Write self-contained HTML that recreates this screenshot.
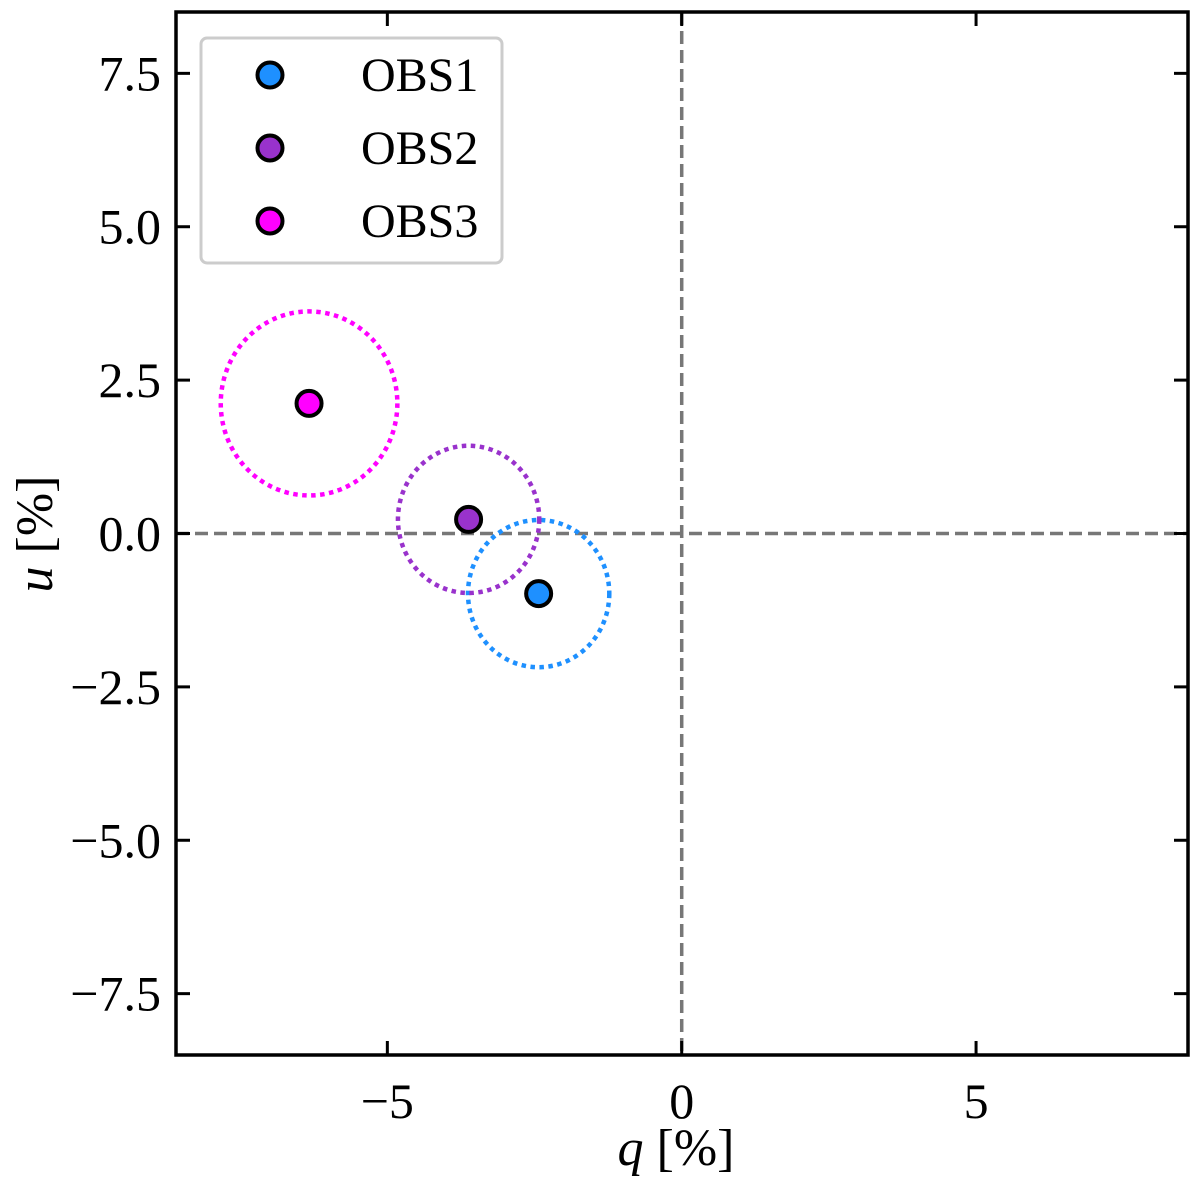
<!DOCTYPE html>
<html><head><meta charset="utf-8"><style>
body{margin:0;background:#fff}
svg{display:block;font-family:"Liberation Serif",serif}
</style></head><body>
<svg id="chart" width="1200" height="1180">
<g id="g"></g>
</svg>
<script>
const names=["OBS1","OBS2","OBS3"];
const qVals=[-2.43,-3.62,-6.33];
const uVals=[-0.98,0.23,2.12];
const errR=[1.2,1.2,1.5];
const colors=["#1e90ff","#9932cc","#ff00ff"];
const xTicks=[-5,0,5];
const xTickLabels=["\u22125","0","5"];
const yTicks=[-7.5,-5,-2.5,0,2.5,5,7.5];
const yTickLabels=["\u22127.5","\u22125.0","\u22122.5","0.0","2.5","5.0","7.5"];
const L=176,R=1188,T=12,B=1055,xmin=-8.59,xmax=8.6,ymin=-8.5,ymax=8.5;
const X=v=>L+(v-xmin)/(xmax-xmin)*(R-L);
const Y=v=>B-(v-ymin)/(ymax-ymin)*(B-T);
const NS="http://www.w3.org/2000/svg",g=document.getElementById('g');
function mk(t,a,txt){const e=document.createElementNS(NS,t);for(const k in a)e.setAttribute(k,a[k]);if(txt!=null)e.textContent=txt;g.appendChild(e);return e;}
let e;
e=mk('line',{x1:X(0),x2:X(0),y1:T,y2:B,stroke:'#777','stroke-width':3.5,'stroke-dasharray':'13,6'});


e=mk('line',{x1:L,x2:R,y1:Y(0),y2:Y(0),stroke:'#777','stroke-width':3.5,'stroke-dasharray':'13,6'});


names.forEach((n,i)=>{
  const rx=errR[i]*(R-L)/(xmax-xmin), ry=errR[i]*(B-T)/(ymax-ymin);
  e=mk('ellipse',{cx:X(qVals[i]),cy:Y(uVals[i]),rx:rx,ry:ry,fill:'none',stroke:colors[i],'stroke-width':4.5,'stroke-dasharray':'4.5,4.5'});
  
  
});
names.forEach((n,i)=>{
  e=mk('circle',{cx:X(qVals[i]),cy:Y(uVals[i]),r:12.5,fill:colors[i],stroke:'#000','stroke-width':4});
  
  
});
e=mk('rect',{x:L,y:T,width:R-L,height:B-T,fill:'none',stroke:'#000','stroke-width':3.5});


xTicks.forEach((v,i)=>{
  e=mk('line',{x1:X(v),x2:X(v),y1:B,y2:B-14,stroke:'#000','stroke-width':3});
  
  
  e=mk('line',{x1:X(v),x2:X(v),y1:T,y2:T+14,stroke:'#000','stroke-width':3});
  
  
  e=mk('text',{x:X(v),y:1118,'font-size':50,'text-anchor':'middle'},xTickLabels[i]);
  
  
});
yTicks.forEach((v,i)=>{
  e=mk('line',{x1:L,x2:L+14,y1:Y(v),y2:Y(v),stroke:'#000','stroke-width':3});
  
  
  e=mk('line',{x1:R,x2:R-14,y1:Y(v),y2:Y(v),stroke:'#000','stroke-width':3});
  
  
  e=mk('text',{x:161,y:Y(v)+17,'font-size':50,'text-anchor':'end'},yTickLabels[i]);
  
  
});
e=mk('text',{x:676,y:1165,'font-size':52,'text-anchor':'middle'});
e.innerHTML='<tspan font-style="italic">q</tspan> [%]';


e=mk('text',{x:0,y:0,'font-size':52,'text-anchor':'middle',transform:'translate(52,534) rotate(-90)'});
e.innerHTML='<tspan font-style="italic">u</tspan> [%]';


e=mk('rect',{x:201,y:38,width:301,height:225,rx:6,fill:'#fff',stroke:'#ccc','stroke-width':3});


names.forEach((n,i)=>{
  const y=75+i*73;
  e=mk('circle',{cx:270,cy:y,r:12.5,fill:colors[i],stroke:'#000','stroke-width':4});
  
  
  e=mk('text',{x:361,y:y+16,'font-size':48},n);
  
  
});
</script>
</body></html>
